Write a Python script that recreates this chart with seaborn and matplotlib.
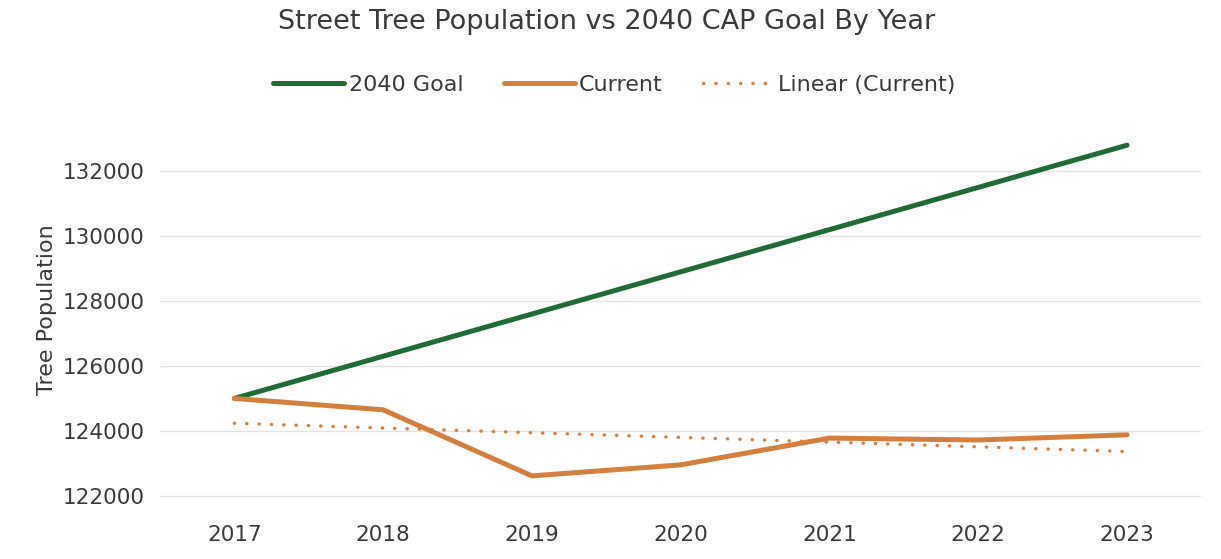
import numpy as np
import pandas as pd
import matplotlib
matplotlib.use("Agg")
import matplotlib.pyplot as plt
import seaborn as sns

years = ["2017", "2018", "2019", "2020", "2021", "2022", "2023"]
goal = [125000, 126300, 127600, 128900, 130200, 131500, 132800]
current = [125000, 124650, 122615, 122954, 123780, 123720, 123880]

GREEN = "#1f6b36"
ORANGE = "#d47f3e"
TEXT = "#3a3a3a"


def plot_data(out_file="out.png"):
    df = pd.DataFrame({"year": years, "2040 Goal": goal, "Current": current})
    x = np.arange(len(years))
    slope, intercept = np.polyfit(x, df["Current"], 1)
    df["Linear (Current)"] = slope * x + intercept

    sns.set_style("white")
    plt.rcParams["font.family"] = ["DejaVu Sans"]

    fig = plt.figure(figsize=(12.21, 5.59), dpi=100)
    ax = fig.add_axes([0.131, 0.088, 0.853, 0.715])

    sns.lineplot(x=x, y=df["2040 Goal"], ax=ax, color=GREEN, lw=3.6,
                 label="2040 Goal", solid_capstyle="round")
    sns.lineplot(x=x, y=df["Current"], ax=ax, color=ORANGE, lw=3.6,
                 label="Current", solid_capstyle="round")
    sns.lineplot(x=x, y=df["Linear (Current)"], ax=ax, color=ORANGE, lw=2.4,
                 ls=(0, (0.1, 3.6)), dash_capstyle="round", label="Linear (Current)")

    ax.set_xlim(-0.5, len(years) - 0.5)
    ax.set_ylim(121570, 133880)
    ax.set_xticks(x)
    ax.set_xticklabels(years)
    ax.set_yticks([122000, 124000, 126000, 128000, 130000, 132000])
    ax.tick_params(axis="both", length=0, labelsize=15.5, colors=TEXT, pad=11)
    ax.grid(axis="y", color="#e3e3e3", lw=1)
    ax.set_axisbelow(True)
    sns.despine(ax=ax, left=True, bottom=True)
    ax.set_xlabel("")
    ax.set_ylabel("Tree Population", fontsize=16, color=TEXT, labelpad=4)

    leg = ax.legend(loc="center", bbox_to_anchor=(0.5 - 0.131 / 2 + 0.002, 1.0625), ncol=3,
                    frameon=False, fontsize=16, handlelength=3.2, handletextpad=0.2,
                    columnspacing=1.8)
    for t in leg.get_texts():
        t.set_color(TEXT)

    fig.text(0.497, 1 - 22 / 559, "Street Tree Population vs 2040 CAP Goal By Year",
             fontsize=19.5, color=TEXT, ha="center", va="center")
    fig.savefig(out_file, dpi=100)


if __name__ == "__main__":
    plot_data()
